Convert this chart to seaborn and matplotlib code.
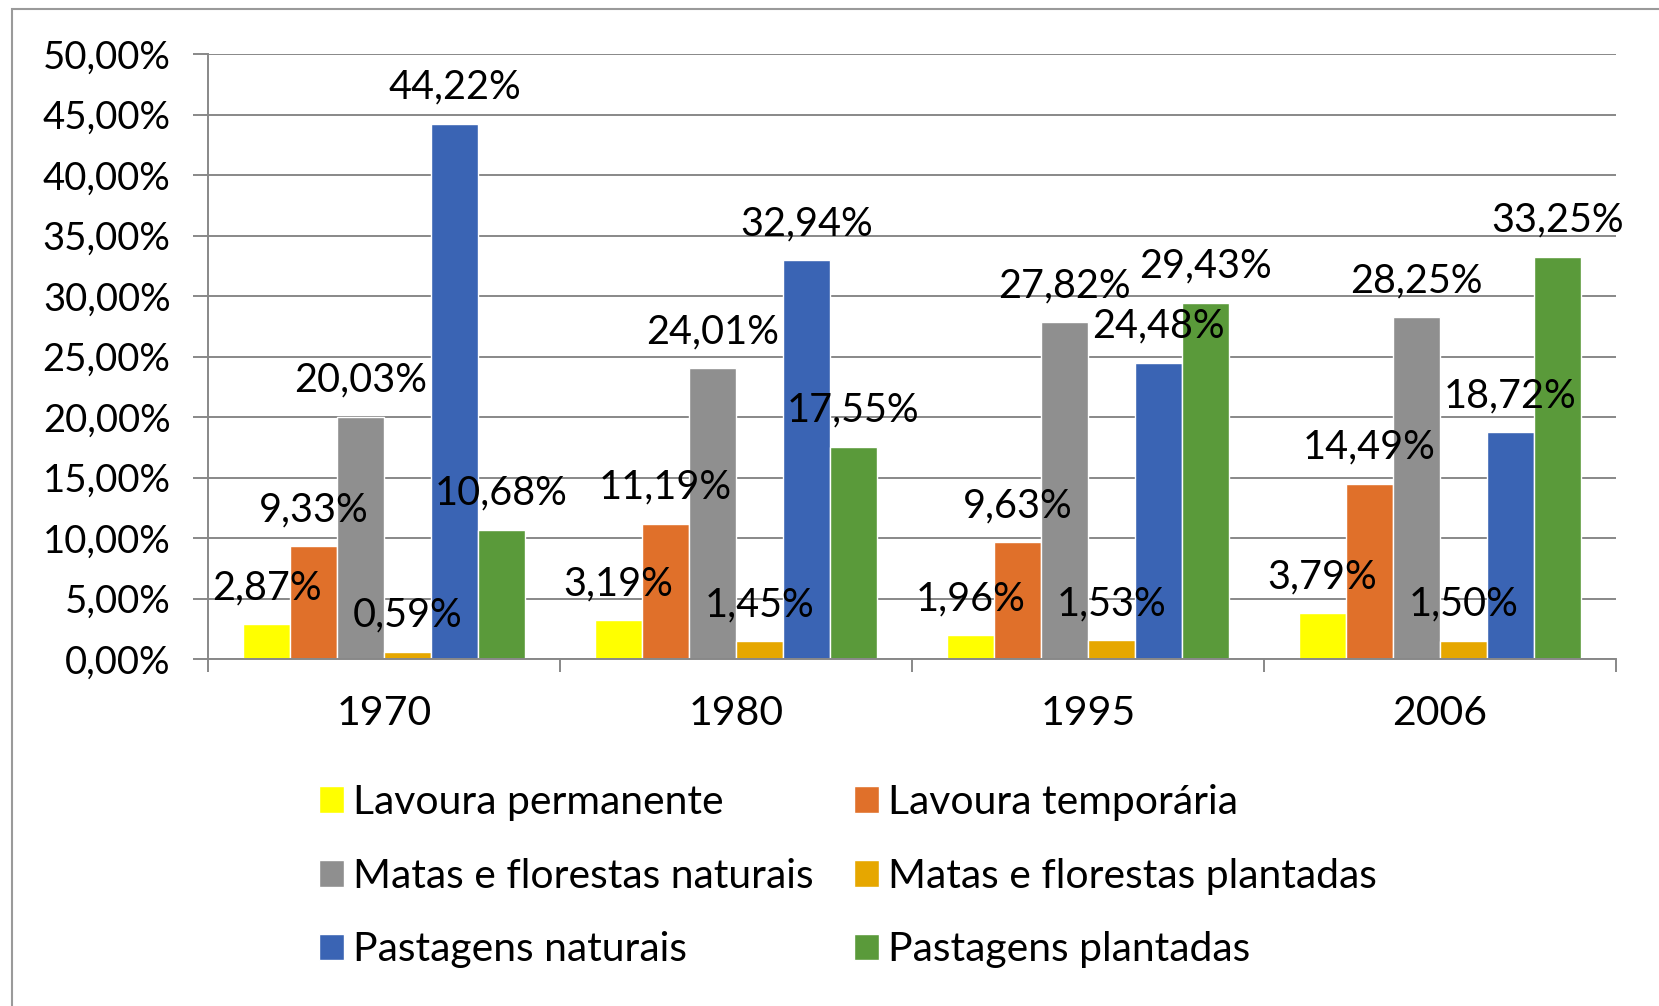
import matplotlib
matplotlib.use('Agg')
import matplotlib.pyplot as plt
import matplotlib.ticker as mticker
from matplotlib.patches import Rectangle
import pandas as pd
import seaborn as sns


anos = ['1970', '1980', '1995', '2006']
categorias = ['Lavoura permanente', 'Lavoura temporária',
              'Matas e florestas naturais', 'Matas e florestas plantadas',
              'Pastagens naturais', 'Pastagens plantadas']
lavoura_permanente = [2.87, 3.19, 1.96, 3.79]
lavoura_temporaria = [9.33, 11.19, 9.63, 14.49]
matas_naturais = [20.03, 24.01, 27.82, 28.25]
matas_plantadas = [0.59, 1.45, 1.53, 1.50]
pastagens_naturais = [44.22, 32.94, 24.48, 18.72]
pastagens_plantadas = [10.68, 17.55, 29.43, 33.25]

cores = ['#FFFF00', '#E0702A', '#8F8F8F', '#E6A700', '#3A64B4', '#5A9A3A']


def build_frame() -> pd.DataFrame:
    """
    Long format table for seaborn
    """
    series = [lavoura_permanente, lavoura_temporaria, matas_naturais,
              matas_plantadas, pastagens_naturais, pastagens_plantadas]
    rows = []
    for cat, vals in zip(categorias, series):
        for ano, v in zip(anos, vals):
            rows.append({'ano': ano, 'categoria': cat, 'valor': v})
    return pd.DataFrame(rows)


def pct(v):
    return f'{v:.2f}%'.replace('.', ',')


def plot_chart(df: pd.DataFrame):
    sns.set_style('white')
    plt.rcParams['font.family'] = ['Lato', 'DejaVu Sans']
    plt.rcParams['text.color'] = 'black'

    fig = plt.figure(figsize=(16.59, 10.06), dpi=100)
    ax = fig.add_axes([208 / 1659, 1 - 659 / 1006, (1616 - 208) / 1659, (659 - 54) / 1006])

    sns.barplot(data=df, x='ano', y='valor', hue='categoria', hue_order=categorias,
                palette=cores, saturation=1, width=0.8, ax=ax, legend=True)

    ax.set_ylim(0, 50)
    ax.set_xlim(-0.5, 3.5)
    ax.set_yticks(range(0, 51, 5))
    ax.yaxis.set_major_formatter(mticker.FuncFormatter(lambda v, p: pct(v)))
    ax.grid(axis='y', color='#888888', linewidth=1.4)
    ax.set_axisbelow(True)
    ax.set_xlabel('')
    ax.set_ylabel('')

    for side in ['top', 'right']:
        ax.spines[side].set_visible(False)
    for side in ['left', 'bottom']:
        ax.spines[side].set_color('#888888')
        ax.spines[side].set_linewidth(1.4)

    ax.tick_params(axis='y', length=11, width=1.4, color='#888888', pad=16,
                   labelsize=27.5, labelcolor='black', left=True)
    ax.tick_params(axis='x', which='major', length=0, pad=26, labelsize=29.5,
                   labelcolor='black')
    ax.set_xticks([-0.5, 0.5, 1.5, 2.5, 3.5], minor=True)
    ax.tick_params(axis='x', which='minor', length=9, width=1.4, color='#888888', bottom=True)

    # Data labels above each bar
    for cont in ax.containers:
        ax.bar_label(cont, labels=[pct(b.get_height()) for b in cont],
                     padding=13, fontsize=28.5, color='black', zorder=5)

    # Legend in three rows, filled row-wise
    handles, labels = ax.get_legend_handles_labels()
    ax.get_legend().remove()
    order = [0, 2, 4, 1, 3, 5]
    fig.legend([handles[i] for i in order], [labels[i] for i in order],
               loc='center', bbox_to_anchor=(0.511, 0.129), ncol=2, frameon=False,
               fontsize=29.4, handlelength=0.62, handleheight=0.62, handletextpad=0.2,
               columnspacing=1.0, labelspacing=0.9)

    # Outer chart border
    fig.patches.append(Rectangle((12 / 1659, -0.1), 1.2, 1.1 - 9 / 1006,
                                 transform=fig.transFigure, fill=False,
                                 edgecolor='#9A9A9A', linewidth=1.5))

    fig.savefig('out.png', dpi=100)


if __name__ == '__main__':
    data = build_frame()
    plot_chart(data)
